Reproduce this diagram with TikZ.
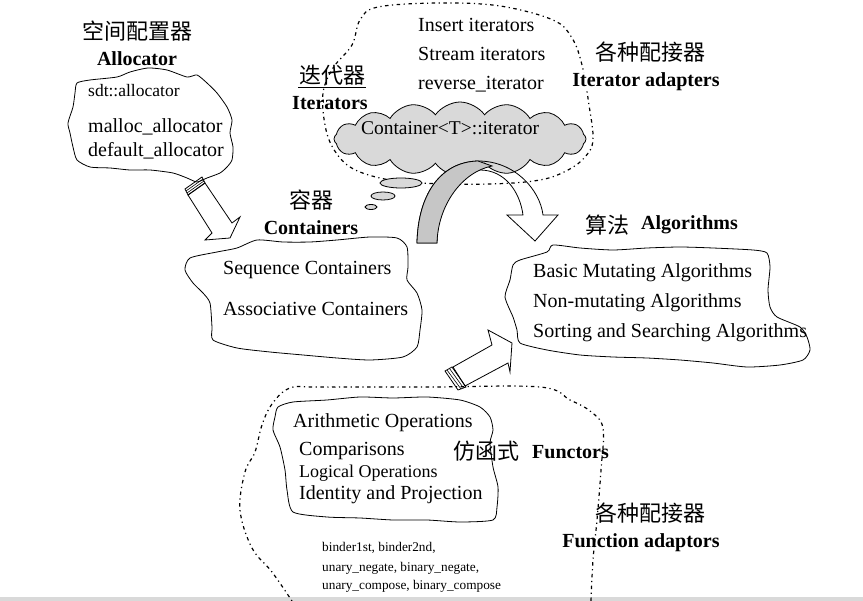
\documentclass[tikz,border=0pt]{standalone}
\usepackage{fontspec}
\setmainfont{Liberation Serif}
\newfontfamily\cjk{Noto Sans CJK SC}
\usetikzlibrary{shapes.symbols}

\begin{document}
\begin{tikzpicture}[x=1pt,y=-1pt,
	txt/.style={inner sep=0pt,font=\fontsize{20}{24}\selectfont},
	bold/.style={inner sep=0pt,font=\fontsize{20}{24}\selectfont\bfseries},
	han/.style={inner sep=0pt,font=\fontsize{22}{26}\selectfont\cjk},
	tiny/.style={inner sep=0pt,font=\fontsize{13.3}{16}\selectfont},
	wobbly/.style={line width=0.8pt,black},
	dotline/.style={line width=1.2pt,dash pattern=on 1.2pt off 3.5pt on 3.5pt off 3.5pt}]
		\useasboundingbox (0,0) rectangle (863,601);
		\fill[gray!30](0,597) rectangle (863,601);
		
		\draw[dotline] plot[smooth cycle,tension=0.6] coordinates {(323,93) (333,68) (352,45) (360,20) (378,7) (440,3) (500,6) (553,20) (572,38) (582,65) (589,105) (593,140) (585,157) (568,170) (540,180) (490,184) (420,183) (380,178) (350,167) (333,148) (325,125)};
		\draw[dotline] plot[smooth,tension=0.6] coordinates {(292,601) (272,572) (252,548) (240,510) (245,472) (255,452) (262,425) (272,404) (290,388) (320,387) (430,387) (540,387) (570,400) (590,411) (603,428) (601,470) (597,520) (593,560) (591,601)};
		
		\draw[wobbly] plot[smooth cycle,tension=0.4] coordinates {(77,83) (90,80) (117,77) (130,72) (148,68) (167,70) (187,77) (197,75) (207,83) (217,93) (227,107) (232,120) (230,133) (233,147) (232,160) (227,167) (220,173) (207,178) (197,182) (187,178) (173,173) (150,170) (130,170) (110,168) (90,167) (77,160) (73,147) (70,133) (68,123) (73,107) (75,93)};
		\draw[wobbly] plot[smooth cycle,tension=0.4] coordinates {(190,258) (217,252) (237,248) (257,240) (283,242) (310,242) (337,240) (370,237) (397,238) (407,247) (408,267) (407,280) (417,293) (422,310) (420,330) (417,347) (403,357) (370,360) (337,358) (303,355) (270,352) (237,348) (213,340) (212,327) (210,303) (203,293) (193,283) (185,270)};
		\draw[wobbly] plot[smooth cycle,tension=0.4] coordinates {(513,265) (520,260) (547,252) (553,245) (580,248) (613,250) (647,248) (680,247) (713,248) (753,250) (767,253) (770,267) (768,290) (770,307) (777,317) (800,327) (807,337) (810,350) (803,360) (780,365) (747,367) (713,363) (680,360) (647,358) (613,357) (580,355) (547,350) (520,343) (517,330) (513,317) (505,297) (510,280)};
		\draw[wobbly] plot[smooth cycle,tension=0.4] coordinates {(278,407) (293,402) (327,400) (360,397) (393,398) (427,397) (460,400) (480,407) (490,417) (493,430) (490,443) (493,467) (498,487) (497,507) (493,520) (460,522) (427,520) (393,520) (360,518) (327,517) (293,512) (287,490) (285,470) (280,447) (273,430) (275,417)};
		
		\node[cloud,draw,fill=gray!30,line width=0.8pt,cloud puffs=16,cloud puff arc=110,cloud ignores aspect,minimum width=252pt,minimum height=74pt,inner sep=0pt](itercloud) at (460,139){};
		\filldraw[fill=gray!30,line width=0.8pt](401,183) ellipse [x radius=21,y radius=5];
		\filldraw[fill=gray!30,line width=0.8pt](383,196) ellipse [x radius=12,y radius=4];
		\filldraw[fill=gray!30,line width=0.8pt](371,207) ellipse [x radius=6,y radius=2.5];
		
		\draw[line width=0.8pt](417,243) .. controls (418,195) and (440,162) .. (478,161)
		.. controls (515,161) and (540,190) .. (543,215) -- (558,215) -- (535,241) -- (507,215)
		-- (523,215) .. controls (520,192) and (505,170) .. (480,170)
		.. controls (455,172) and (438,200) .. (437,243) -- cycle;
		\filldraw[fill=gray!45,line width=0.8pt](417,243) .. controls (418,195) and (440,162) .. (478,161)
		-- (492,166) .. controls (462,172) and (438,205) .. (437,243) -- cycle;
		
		\filldraw[fill=white,line width=0.8pt](205,183) -- (232,223) -- (240,217) -- (230,238)
		-- (205,240) -- (212,233) -- (188,195) -- cycle;
		\draw[line width=0.8pt](188,195) -- (205,183) -- (202,177) -- (185,189) -- cycle;
		\draw[line width=0.6pt](187,193) -- (204,181);
		\draw[line width=0.6pt](186,191) -- (203,179);
		
		\filldraw[fill=white,line width=0.8pt](453,367) -- (492,345) -- (488,330) -- (512,343)
		-- (510,372) -- (508,363) -- (465,386) -- cycle;
		\draw[line width=0.8pt](445,371) -- (452,367) -- (466,387) -- (458,390) -- cycle;
		\draw[line width=0.6pt](447,370) -- (461,389);
		\draw[line width=0.6pt](449.5,368.5) -- (463.5,388);
		
		\node[han](allocH) at (137,31){空间配置器};
		\node[bold](allocE) at (137,59){Allocator};
		\node[txt,anchor=west,font=\fontsize{17.5}{21}\selectfont](sdt) at (88,91){sdt::allocator};
		\node[txt,anchor=west](malloc) at (88,127){malloc\_allocator};
		\node[txt,anchor=west](default) at (88,151){default\_allocator};
		
		\node[han](iterH) at (332,75){迭代器};
		\draw[line width=0.8pt](298,87) -- (366,87);
		\node[bold](iterE) at (330,103){Iterators};
		\node[txt,anchor=west](insert) at (418,25){Insert iterators};
		\node[txt,anchor=west](stream) at (418,54){Stream iterators};
		\node[txt,anchor=west](reverse) at (418,84){reverse\_iterator};
		\node[txt,font=\fontsize{19.5}{23}\selectfont](contiter) at (450,128){Container<T>::iterator};
		\node[han](adaptH) at (650,52){各种配接器};
		\node[bold,fill=white](adaptE) at (646,82){Iterator adapters};
		
		\node[han](contH) at (311,200){容器};
		\node[bold](contE) at (311,228){Containers};
		\node[txt,anchor=west](seq) at (223,270){Sequence Containers};
		\node[txt,anchor=west](assoc) at (223,309){Associative Containers};
		
		\node[han](algoH) at (607,225){算法};
		\node[bold,anchor=west](algoE) at (641,225){Algorithms};
		\node[txt,anchor=west](basic) at (533,273){Basic Mutating Algorithms};
		\node[txt,anchor=west](nonmut) at (533,303){Non-mutating Algorithms};
		\node[txt,anchor=west](sorting) at (533,333){Sorting and Searching Algorithms};
		
		\node[txt,anchor=west](arith) at (293,423){Arithmetic Operations};
		\node[txt,anchor=west](compar) at (299,451){Comparisons};
		\node[txt,anchor=west,font=\fontsize{18}{22}\selectfont](logic) at (299,473){Logical Operations};
		\node[txt,anchor=west](ident) at (299,495){Identity and Projection};
		\node[han](functH) at (486,451){仿函式};
		\node[bold,anchor=west](functE) at (532,452){Functors};
		\node[han](fadaptH) at (650,513){各种配接器};
		\node[bold](fadaptE) at (641,543){Function adaptors};
		\node[tiny,anchor=west](binder) at (322,548){binder1st, binder2nd,};
		\node[tiny,anchor=west](negate) at (322,568){unary\_negate, binary\_negate,};
		\node[tiny,anchor=west](compose) at (322,586){unary\_compose, binary\_compose};
		
		\end{tikzpicture}
\end{document}
